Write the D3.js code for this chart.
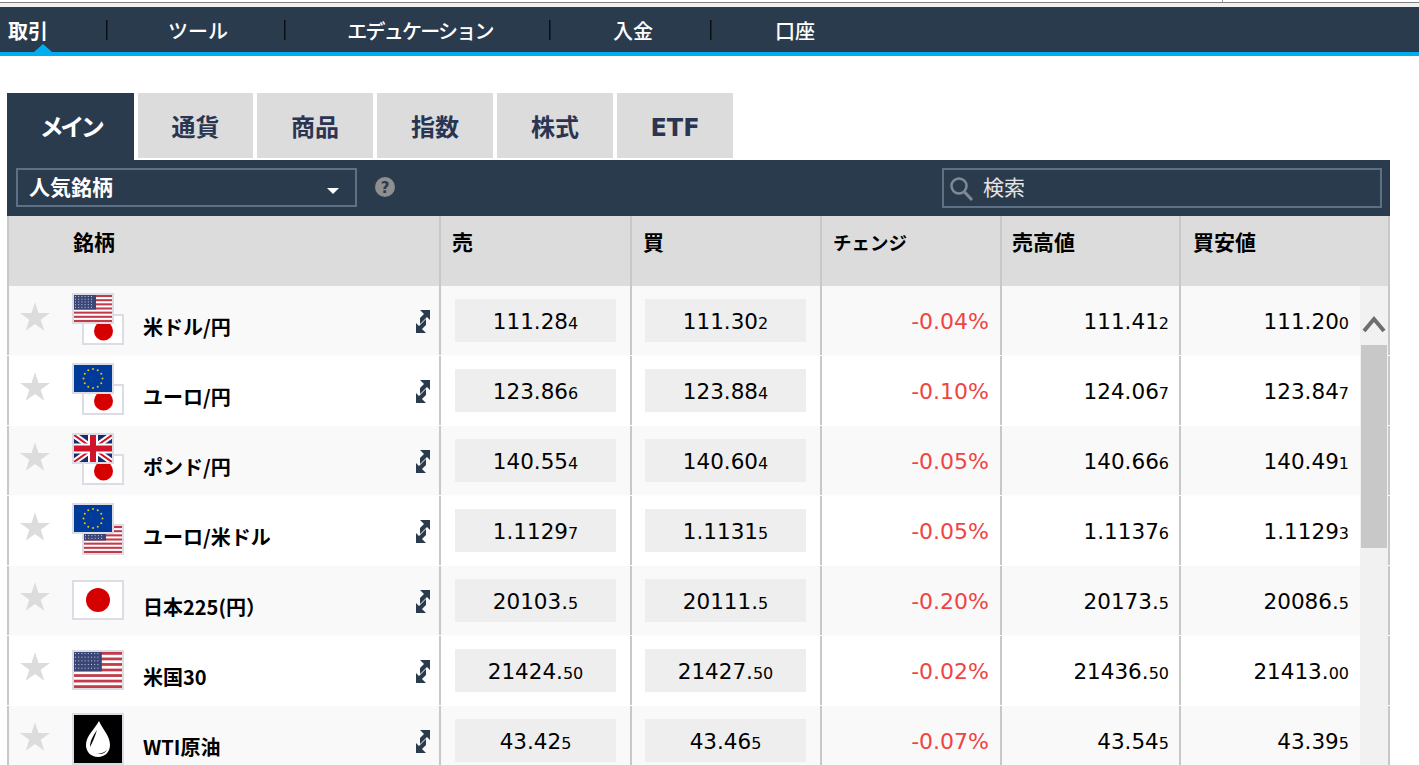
<!DOCTYPE html>
<html lang="ja">
<head>
<meta charset="utf-8">
<script src="https://cdnjs.cloudflare.com/ajax/libs/d3/7.8.5/d3.min.js"></script>
<style>
html,body{margin:0;padding:0;background:#fff;overflow:hidden}
svg{display:block}
text{font-family:"Noto Sans CJK JP","Noto Sans",sans-serif}
text.num,text.lat{font-family:"DejaVu Sans",sans-serif}
</style>
</head>
<body>
<svg id="c" width="1419" height="765" viewBox="0 0 1419 765"></svg>
<script>
const navLabels = ["取引","ツール","エデュケーション","入金","口座"];
const tabLabels = ["メイン","通貨","商品","指数","株式","ETF"];
const headers   = ["銘柄","売","買","チェンジ","売高値","買安値"];
const names  = ["米ドル/円","ユーロ/円","ポンド/円","ユーロ/米ドル","日本225(円）","米国30","WTI原油"];
const flags  = [["us","jp"],["eu","jp"],["uk","jp"],["eu","us"],["jp"],["us"],["oil"]];
const bids   = ["111.284","123.866","140.554","1.11297","20103.5","21424.50","43.425"];
const asks   = ["111.302","123.884","140.604","1.11315","20111.5","21427.50","43.465"];
const changes= [-0.04,-0.10,-0.05,-0.05,-0.20,-0.02,-0.07];
const highs  = ["111.412","124.067","140.666","1.11376","20173.5","21436.50","43.545"];
const lows   = ["111.200","123.847","140.491","1.11293","20086.5","21413.00","43.395"];
const smallDigits = [1,1,1,1,1,2,1];

const svg = d3.select("#c");
const DARK = "#2b3b4e", GREY = "#dcdcdc", LINE = "#c8c8c8", TABINK = "#2a3552";
const R = (x,y,w,h,f,p=svg)=>p.append("rect").attr("x",x).attr("y",y).attr("width",w).attr("height",h).attr("fill",f);

// browser top edge
R(0,0,1419,7,"#f0f0f0"); R(0,0,1419,2,"#ffffff"); R(0,2,1419,1,"#808080"); R(1222,0,1,2,"#999");

// nav
R(0,7,1419,45,DARK); R(0,52,1419,4,"#00aeef");
svg.append("path").attr("d","M34 52L43 44L52 52Z").attr("fill","#00aeef");
const navX = d3.scaleOrdinal().domain(navLabels).range([28,198,420,633,795]);
svg.selectAll(".nav").data(navLabels).join("text").attr("class","nav")
  .attr("x",d=>navX(d)).attr("y",39).attr("text-anchor","middle").attr("font-size",20)
  .attr("letter-spacing",d=>d.length>6?-1.75:0)
  .attr("font-weight",(d,i)=>i==0?700:500).attr("fill","#fff").text(d=>d);
svg.selectAll(".sep").data([107,285,550,711]).join("rect").attr("class","sep")
  .attr("x",d=>d-1).attr("y",20).attr("width",1.5).attr("height",20).attr("fill","#0b0f14");

// tabs
const tabX = d3.scaleOrdinal().domain(tabLabels).range([7,138,257,377,497,617]);
const tabW = d3.scaleOrdinal().domain(tabLabels).range([127,115,116,116,116,116]);
svg.selectAll(".tab").data(tabLabels).join("rect").attr("class","tab")
  .attr("x",d=>tabX(d)).attr("y",93).attr("width",d=>tabW(d))
  .attr("height",(d,i)=>i==0?67:65).attr("fill",(d,i)=>i==0?DARK:GREY);
svg.selectAll(".tabt").data(tabLabels).join("text")
  .attr("class",d=>d=="ETF"?"tabt lat":"tabt")
  .attr("x",d=>tabX(d)+tabW(d)/2).attr("y",136).attr("text-anchor","middle")
  .attr("font-size",24).attr("font-weight",700)
  .attr("letter-spacing",(d,i)=>i==0?-3.5:0)
  .attr("fill",(d,i)=>i==0?"#fff":TABINK).text(d=>d);

// toolbar
R(7,160,1383,56,DARK);
svg.append("rect").attr("x",17).attr("y",169).attr("width",339).attr("height",37).attr("fill","none").attr("stroke","#5d7085").attr("stroke-width",2);
svg.append("text").attr("x",29).attr("y",195).attr("font-size",21).attr("font-weight",700).attr("fill","#fff").text("人気銘柄");
svg.append("path").attr("d","M327 188H339L333 194Z").attr("fill","#fff");
svg.append("circle").attr("cx",385).attr("cy",187).attr("r",10).attr("fill","#8f8f8f");
svg.append("text").attr("class","num").attr("x",385).attr("y",193).attr("text-anchor","middle").attr("font-size",15).attr("font-weight",700).attr("fill",DARK).text("?");
svg.append("rect").attr("x",943).attr("y",169).attr("width",438).attr("height",38).attr("fill","none").attr("stroke","#5d7085").attr("stroke-width",2);
svg.append("circle").attr("cx",959).attr("cy",186).attr("r",7.5).attr("fill","none").attr("stroke","#7f8a95").attr("stroke-width",2.5);
svg.append("line").attr("x1",964.5).attr("y1",192).attr("x2",972).attr("y2",200).attr("stroke","#7f8a95").attr("stroke-width",3);
svg.append("text").attr("x",983).attr("y",195).attr("font-size",21).attr("fill","#e4e4e4").text("検索");

// header
R(7,216,1383,70,GREY);
const headX = d3.scaleOrdinal().domain(headers).range([73,452,643,833,1012,1193]);
svg.selectAll(".hd").data(headers).join("text").attr("class","hd")
  .attr("x",d=>headX(d)).attr("y",250)
  .attr("font-size",d=>d=="チェンジ"?18.5:21).attr("font-weight",700).attr("fill","#000").text(d=>d);

// rows
const y = d3.scaleBand().domain(d3.range(names.length)).range([286,776]);
const rows = svg.selectAll(".row").data(names).join("g").attr("class","row")
  .attr("transform",(d,i)=>`translate(0,${y(i)})`);
rows.append("rect").attr("x",7).attr("y",0).attr("width",1353).attr("height",69.5)
  .attr("fill",(d,i)=>i%2==0?"#f9f9f9":"#ffffff");

// column rules
[8,440,631,821,1001,1180,1389].forEach(x=>{
  R(x-1,216,2,70,LINE);
  y.domain().forEach(i=>R(x-1,y(i),2,69,LINE));
});

// stars
rows.append("path").attr("d",d3.symbol(d3.symbolStar).size(280)())
  .attr("transform","translate(35,32)").attr("fill",GREY);

// flags
let clipId=0;
function flag(g,type,x,yy,w,h,small){
  const b=2, ix=x+b, iy=yy+b, iw=w-2*b, ih=h-2*b;
  R(x,yy,w,h,"#dcdce4",g);
  const id="fc"+(clipId++);
  svg.append("clipPath").attr("id",id).append("rect").attr("x",ix).attr("y",iy).attr("width",iw).attr("height",ih);
  const f=g.append("g").attr("clip-path",`url(#${id})`);
  const cx=ix+iw/2, cy=iy+ih/2;
  if(type=="jp"){
    R(ix,iy,iw,ih,"#fff",f);
    f.append("circle").attr("cx",cx+(small?0.5:0)).attr("cy",cy+(small?1.5:0)).attr("r",small?9.5:12).attr("fill","#d50000");
  } else if(type=="us"){
    R(ix,iy,iw,ih,"#fff",f);
    d3.range(0,13,2).forEach(s=>R(ix,iy+s*ih/13,iw,ih/13,"#c23b4a",f));
    const cw=iw*0.58, ch=ih*7/13;
    R(ix,iy,cw,ch,"#3a4676",f);
    d3.range(5).forEach(r=>d3.range(Math.floor(cw/3.2)).forEach(c=>
      R(ix+1+c*3.2,iy+1+r*(ch-1)/5,1,1,"#c8cce0",f)));
  } else if(type=="eu"){
    R(ix,iy,iw,ih,"#003b9b",f);
    d3.range(12).forEach(k=>{
      const a=k*Math.PI/6;
      f.append("circle").attr("cx",cx+Math.cos(a)*9.5).attr("cy",cy+Math.sin(a)*9.5).attr("r",1).attr("fill","#f5c400");
    });
  } else if(type=="uk"){
    R(ix,iy,iw,ih,"#1a2a6c",f);
    const diag=(w2,col)=>{
      f.append("line").attr("x1",ix).attr("y1",iy).attr("x2",ix+iw).attr("y2",iy+ih).attr("stroke",col).attr("stroke-width",w2);
      f.append("line").attr("x1",ix+iw).attr("y1",iy).attr("x2",ix).attr("y2",iy+ih).attr("stroke",col).attr("stroke-width",w2);
    };
    diag(6,"#fff"); diag(2,"#cf142b");
    R(cx-5,iy,10,ih,"#fff",f); R(ix,cy-5,iw,10,"#fff",f);
    R(cx-3,iy,6,ih,"#cf142b",f); R(ix,cy-3,iw,6,"#cf142b",f);
  } else if(type=="oil"){
    R(ix,iy,iw,ih,"#000",f);
    f.append("path").attr("transform",`translate(${cx},${cy})`)
      .attr("d","M1-18C5-9 12-3 12 6C12 13 7 18 0 18C-7 18-12 13-12 6C-12-3-4-9 1-18Z").attr("fill","#fff");
    f.append("path").attr("transform",`translate(${cx},${cy})`)
      .attr("d","M-1-9C-5-3-8 2-8 8C-6 4-3-2-1-9ZM9 11C6 14 2 15-2 14L2 15C5 15 8 13 9 11Z").attr("fill","#000");
  }
}
rows.each(function(d,i){
  const g=d3.select(this), fl=flags[i];
  if(fl.length==2){
    flag(g,fl[1],82,28,42,31,true);
    flag(g,fl[0],72,7,42,31,true);
  } else if(fl[0]=="oil"){
    flag(g,"oil",72,7,52,52);
  } else {
    flag(g,fl[0],72,14,52,40);
  }
});

// names
rows.append("text").attr("x",143).attr("y",48.5).attr("font-size",20).attr("font-weight",700).attr("fill","#000").text(d=>d);

// trade icon
rows.append("path").attr("transform","translate(416,24)")
  .attr("d","M4 0H14V10L11 7L4 14V8L8 4ZM0 23V13L3 16L10 9V15L6 19L10 23Z").attr("fill",DARK);

// price boxes
const boxX = d3.scaleOrdinal().domain(["bid","ask"]).range([455,645]);
["bid","ask"].forEach(k=>rows.append("rect").attr("x",boxX(k)).attr("y",13).attr("width",161).attr("height",43).attr("fill","#eeeeee"));

function price(sel,vals,x,anchor){
  const t=sel.append("text").attr("class","num").attr("x",x).attr("y",42.5).attr("text-anchor",anchor).attr("font-size",21.5).attr("fill","#000");
  t.append("tspan").text((d,i)=>vals[i].slice(0,vals[i].length-smallDigits[i]));
  t.append("tspan").attr("font-size",16).text((d,i)=>vals[i].slice(-smallDigits[i]));
}
price(rows,bids,535.5,"middle");
price(rows,asks,725.5,"middle");
rows.append("text").attr("class","num").attr("x",989).attr("y",42.5).attr("text-anchor","end")
  .attr("font-size",22).attr("fill","#f04444").text((d,i)=>changes[i].toFixed(2)+"%");
price(rows,highs,1169,"end");
price(rows,lows,1349,"end");

// scrollbar
R(1360,286,28,479,"#f1f1f1");
svg.append("path").attr("d","M1364 331L1374 319L1384 331").attr("fill","none").attr("stroke","#6e6e6e").attr("stroke-width",4);
R(1361,345,26,203,"#c8c8c8");
</script>
</body>
</html>
